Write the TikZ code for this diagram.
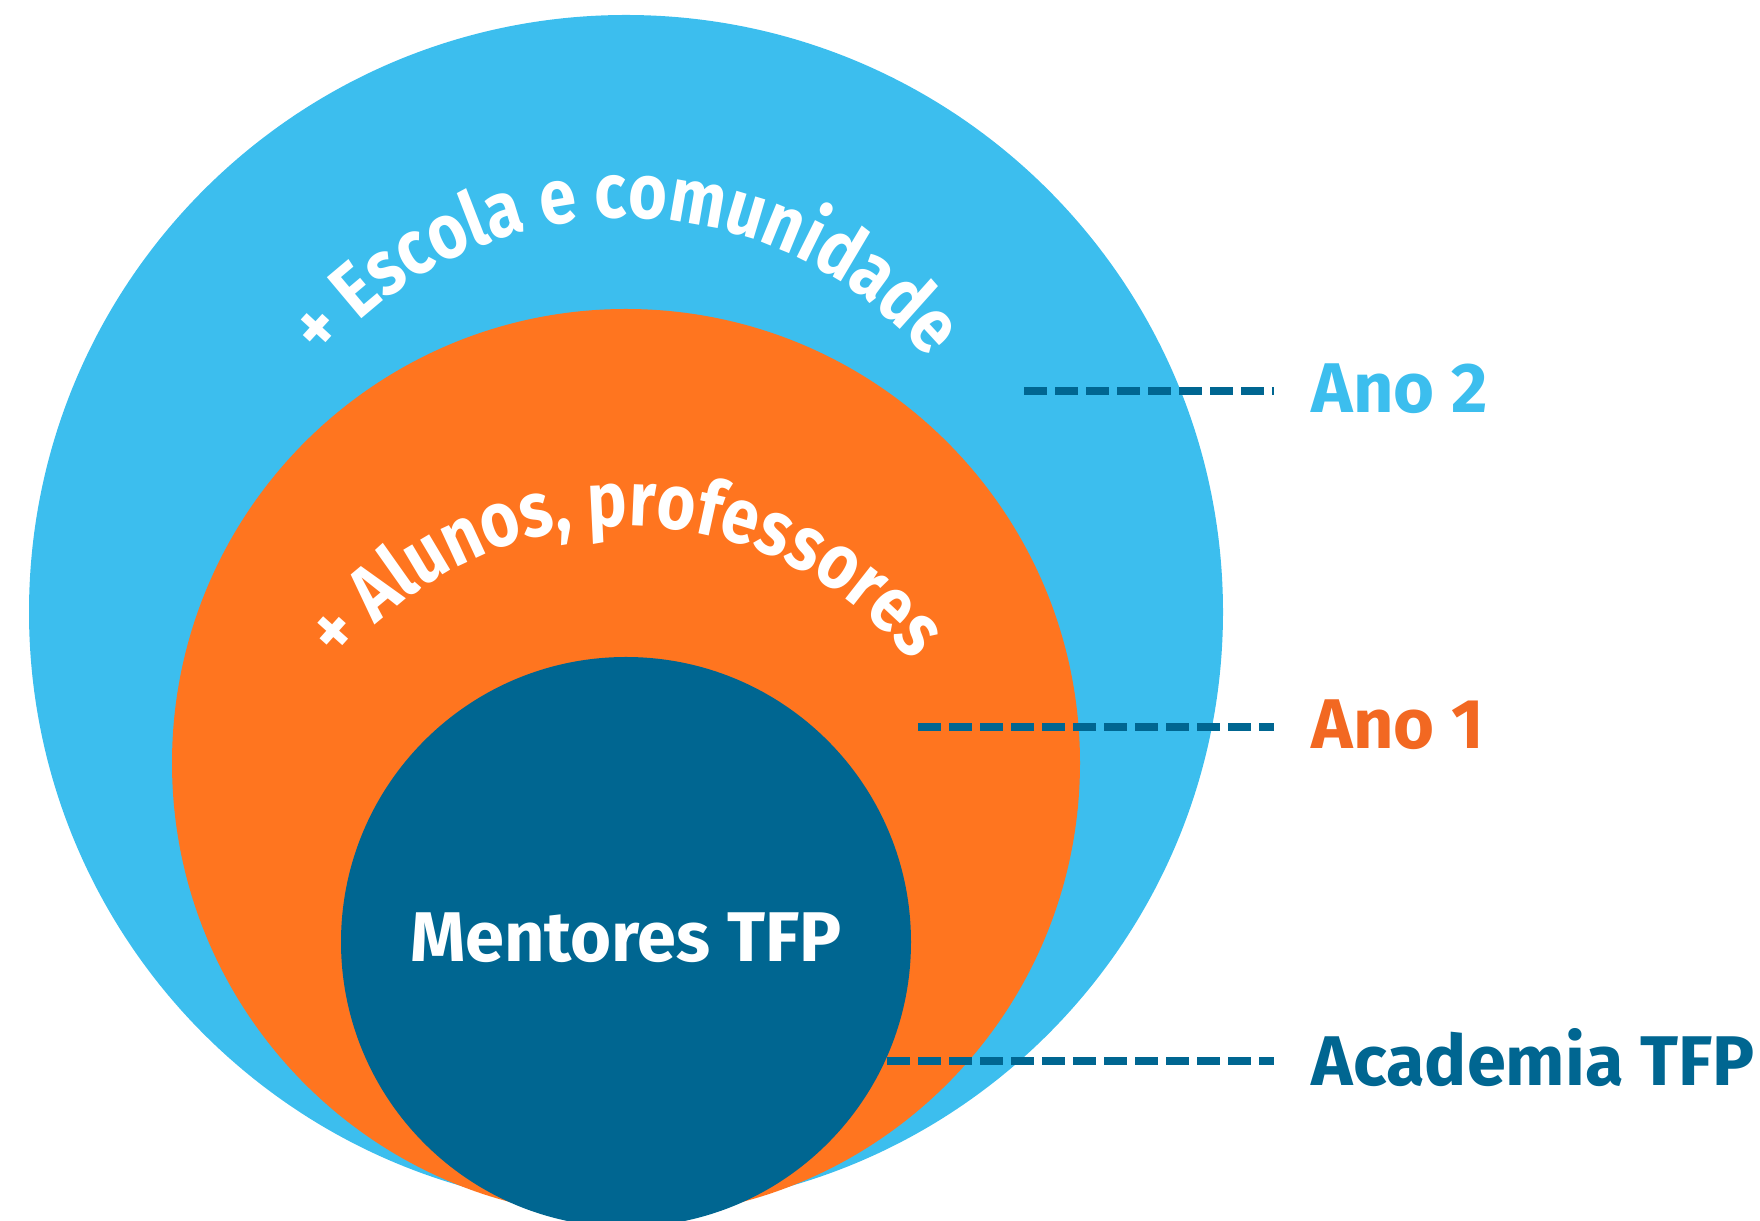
\documentclass[tikz,border=0pt]{standalone}
\usepackage{fontspec}
\usepackage{tikz}
\usetikzlibrary{decorations.text,positioning}
\newfontfamily\tfpfont{Fira Sans}
\newfontfamily\arcofont[FakeStretch=0.86]{Fira Sans}
\definecolor{azulclaro}{RGB}{60,190,238}
\definecolor{laranja}{RGB}{255,117,31}
\definecolor{laranjaescuro}{RGB}{242,104,34}
\definecolor{azulescuro}{RGB}{0,102,145}
% texto curvo: centro, raio, tamanho, texto
\newcommand{\textoarco}[4]{
\path [decorate, decoration={text along path, text align=center,
  text={|\arcofont\bfseries\fontsize{#3}{#3}\selectfont\color{white}|#4}}]
  (#1) ++(170:#2) arc [start angle=170, end angle=10, radius=#2];
}

\begin{document}
\begin{tikzpicture}[x=0.01cm,y=0.01cm,
  ano/.style={anchor=west,inner sep=0pt,font=\tfpfont\bfseries\fontsize{20}{20}\selectfont},
  tracejado/.style={azulescuro,line width=0.08cm,dash pattern=on 0.23cm off 0.08cm,shorten >=0.37cm}]

\useasboundingbox (0,0) rectangle (1760,1221);
\clip (0,0) rectangle (1760,1221);

\fill [azulclaro] (626,609) circle [radius=597];
\fill [laranja] (626,458) circle [radius=454];
\fill [azulescuro] (626,279) circle [radius=285];

\textoarco{626,609}{394}{22}{+ Escola e comunidade}
\textoarco{626,327}{368}{22}{+ Alunos, professores}

\node (mentores) [inner sep=0pt,text=white,font=\tfpfont\bfseries\fontsize{20}{20}\selectfont] at (626,283) {Mentores TFP};

\coordinate (s2) at (1024,830);
\coordinate (s1) at (918,494);
\coordinate (s0) at (887,160);

\node (ano2) [ano,text=azulclaro] at (1311,832) {Ano 2};
\node (ano1) [ano,text=laranjaescuro] at (1311,496) {Ano 1};
\node (academia) [ano,text=azulescuro] at (1311,163) {Academia TFP};

\draw [tracejado] (s2) -- (s2 -| ano2.west);
\draw [tracejado] (s1) -- (s1 -| ano1.west);
\draw [tracejado] (s0) -- (s0 -| academia.west);

\end{tikzpicture}
\end{document}
